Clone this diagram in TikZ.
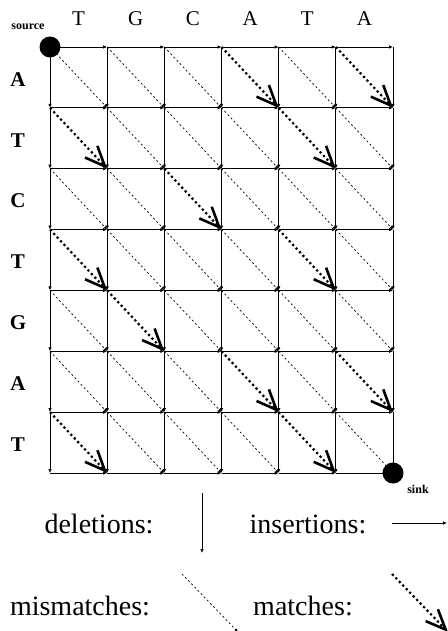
\documentclass[tikz,border=0pt]{standalone}
\usepackage{fontspec}
\setmainfont{Liberation Serif}
\usetikzlibrary{arrows.meta}
\begin{document}
\begin{tikzpicture}[x=1pt,y=-1pt,
lbl/.style={font=\fontsize{21}{21}\selectfont},
leg/.style={font=\fontsize{28}{28}\selectfont,anchor=base},
tiny/.style={font=\fontsize{12}{12}\selectfont\bfseries},
dot/.style={circle,fill,inner sep=0pt,minimum size=21pt},
hv/.style={-{Latex[length=4pt,width=3.5pt]},line width=.9pt},
mis/.style={-{Latex[length=3.5pt,width=3pt]},dash pattern=on 2pt off 2.5pt,line width=.7pt},
mat/.style={-{Straight Barb[length=20pt,width=17pt,line width=2.6pt]},dash pattern=on 2.2pt off 2.8pt,line width=2.2pt}]
\useasboundingbox(0,0)rectangle(447,631);
% grid points
\foreach \i in {0,...,7}{\foreach \j in {0,...,6}{\coordinate(v\i\j)at({50+57.17*\j},{47+60.86*\i});}}
% insertions and deletions
\foreach \i in {0,...,7}{\foreach \j [evaluate=\j as \jn using int(\j+1)] in {0,...,5}{\draw[hv](v\i\j)--(v\i\jn);}}
\foreach \j in {0,...,6}{\foreach \i [evaluate=\i as \in using int(\i+1)] in {0,...,6}{\draw[hv](v\i\j)--(v\in\j);}}
% matches and mismatches
\foreach \rc [count=\i] in {A,T,C,T,G,A,T}{
 \pgfmathtruncatemacro\ip{\i-1}
 \node[lbl,font=\fontsize{21}{21}\selectfont\bfseries](r\i)at({18},{49+60.86*\ip+30.43}){\rc};
 \foreach \cc [count=\j] in {T,G,C,A,T,A}{
  \pgfmathtruncatemacro\jp{\j-1}
  \ifx\rc\cc\def\sty{mat}\else\def\sty{mis}\fi
  \draw[\sty](v\ip\jp)--(v\i\j);}}
\foreach \cc [count=\j] in {T,G,C,A,T,A}{\node[lbl](c\j)at({50+57.17*\j-28.6},{19}){\cc};}
\node[dot](src)at(v00){};\node[tiny](srcl)at(28,27){source};
\node[dot](snk)at(v76){};\node[tiny](snkl)at(418,489){sink};
% legend
\node[leg](del)at(99,533){deletions:};
\coordinate(d1)at(202,493);\coordinate(d2)at(202,553);\draw[hv](d1)--(d2);
\node[leg](ins)at(308,533){insertions:};
\coordinate(i1)at(392,523);\coordinate(i2)at(447,523);\draw[hv](i1)--(i2);
\node[leg](mism)at(80,615){mismatches:};
\coordinate(m1)at(182,574);\coordinate(m2)at(238,632);\draw[mis](m1)--(m2);
\node[leg](mat)at(303,615){matches:};
\coordinate(t1)at(392,574);\coordinate(t2)at(448,632);\draw[mat](t1)--(t2);
\end{tikzpicture}
\end{document}
